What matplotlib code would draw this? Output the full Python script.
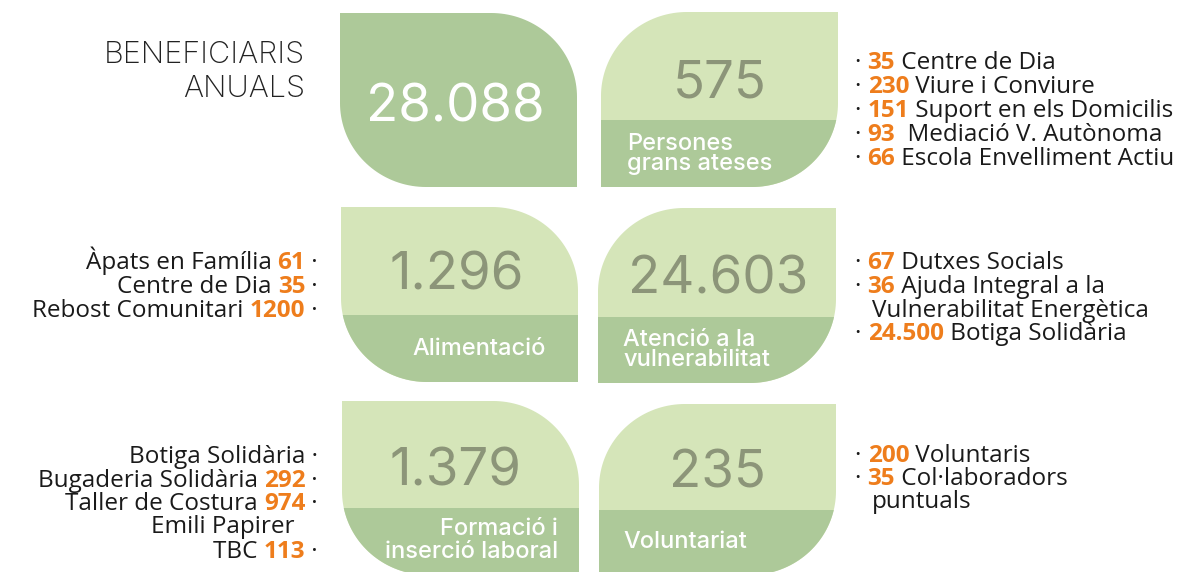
import numpy as np
import matplotlib
matplotlib.use('Agg')
import matplotlib.pyplot as plt
from matplotlib.patches import Polygon, Rectangle

# ---- data ----
title = ['BENEFICIARIS', 'ANUALS']
tile_values = ['28.088', '575', '1.296', '24.603', '1.379', '235']
tile_labels = [[], ['Persones', 'grans ateses'], ['Alimentació'],
               ['Atenció a la', 'vulnerabilitat'], ['Formació i', 'inserció laboral'],
               ['Voluntariat']]

# side lists: (number, text) on the right, (text, number) on the left
gent_gran = [('35', 'Centre de Dia'), ('230', 'Viure i Conviure'),
             ('151', 'Suport en els Domicilis'), ('93', ' Mediació V. Autònoma'),
             ('66', 'Escola Envelliment Actiu')]
alimentacio = [('Àpats en Família', '61'), ('Centre de Dia', '35'),
               ('Rebost Comunitari', '1200')]
vulnerab = [('67', 'Dutxes Socials'), ('36', 'Ajuda Integral a la'),
            ('', 'Vulnerabilitat Energètica'), ('24.500', 'Botiga Solidària')]
formacio = [('Botiga Solidària', ''), ('Bugaderia Solidària', '292'),
            ('Taller de Costura', '974'), ('Emili Papirer', None), ('TBC', '113')]
voluntariat = [('200', 'Voluntaris'), ('35', 'Col·laboradors'), ('', 'puntuals')]

DARK_G = '#adc999'
LIGHT_G = '#d5e5b9'
GREY = '#8c9579'
ORANGE = '#ee7d1c'
INK = '#1a1a1a'
TILE_FONT = ['Inter', 'DejaVu Sans']
LIST_FONT = ['Open Sans', 'DejaVu Sans']

fig = plt.figure(figsize=(11.92, 5.72), dpi=100)
ax = fig.add_axes([0, 0, 1, 1])
ax.set_xlim(0, 1192)
ax.set_ylim(572, 0)
ax.axis('off')
r = fig.canvas.get_renderer()


def tile_verts(x0, y0, x1, y1, rounded, rx=86, ry=84, n=40):
    pts = []
    spec = {'tl': ((x0 + rx, y0 + ry), 180, 270, (x0, y0)),
            'tr': ((x1 - rx, y0 + ry), 270, 360, (x1, y0)),
            'br': ((x1 - rx, y1 - ry), 0, 90, (x1, y1)),
            'bl': ((x0 + rx, y1 - ry), 90, 180, (x0, y1))}
    for c in ['tl', 'tr', 'br', 'bl']:
        (cx, cy), a0, a1, corner = spec[c]
        if c in rounded:
            a = np.radians(np.linspace(a0, a1, n))
            pts += list(zip(cx + rx * np.cos(a), cy + ry * np.sin(a)))
        else:
            pts.append(corner)
    return pts


# tile boxes: x0, y0, x1, y1, rounded corners, band top
boxes = [(340, 13, 577, 187, ('tr', 'bl'), None),
         (601, 12, 838, 187, ('tl', 'br'), 120),
         (341, 207, 578, 382, ('tr', 'bl'), 315),
         (598, 208, 836, 383, ('tl', 'br'), 317),
         (342, 401, 579, 575, ('tr', 'bl'), 508),
         (599, 404, 836, 575, ('tl', 'br'), 510)]

for i, (x0, y0, x1, y1, rc, band) in enumerate(boxes):
    face = DARK_G if band is None else LIGHT_G
    p = Polygon(tile_verts(x0, y0, x1, y1, rc), closed=True, fc=face, ec='none')
    ax.add_patch(p)
    if band is not None:
        b = Rectangle((x0 - 5, band), x1 - x0 + 10, y1 - band + 10, fc=DARK_G, ec='none')
        ax.add_patch(b)
        b.set_clip_path(p)

# big numbers
num_pos = [(455, 122), (720, 98), (457, 290), (718, 293), (455, 486), (717, 488)]
for i, (v, (x, y)) in enumerate(zip(tile_values, num_pos)):
    ax.text(x, y, v, ha='center', va='baseline', fontsize=38, family=TILE_FONT,
            fontweight='normal', color='white' if i == 0 else GREY)

# tile captions
cap_pos = [None, (627, 'left', [150, 170]), (412, 'left', [355]),
           (623, 'left', [346, 366]), (558, 'right', [535, 558]), (623, 'left', [548])]
for lab, cp in zip(tile_labels, cap_pos):
    if cp is None:
        continue
    x, ha, ys = cp
    for s, y in zip(lab, ys):
        ax.text(x, y, s, ha=ha, va='baseline', fontsize=17, family=TILE_FONT,
                fontweight='medium', color='white')

# title
for s, y in zip(title, [63, 97]):
    ax.text(305, y, s, ha='right', va='baseline', fontsize=22, family=TILE_FONT,
            fontweight='light', color='#222222')


def width(s, **kw):
    a = ax.text(0, 0, '|' + s + '|', **kw)
    b = ax.text(0, 0, '||', **kw)
    w = a.get_window_extent(r).width - b.get_window_extent(r).width
    a.remove()
    b.remove()
    return w


def rich(x, y, parts, ha='left', size=17.5):
    styles = []
    for s, hot in parts:
        styles.append(dict(fontsize=size, family=LIST_FONT,
                           color=ORANGE if hot else INK,
                           fontweight='bold' if hot else 'normal'))
    ws = [width(s, **st) for (s, _), st in zip(parts, styles)]
    start = x if ha == 'left' else x - sum(ws)
    for (s, _), st, w in zip(parts, styles, ws):
        ax.text(start, y, s, va='baseline', ha='left', **st)
        start += w


def right_list(x, ys, items):
    for (num, txt), y in zip(items, ys):
        if num:
            rich(x, y, [('· ', False), (num, True), (' ' + txt, False)])
        else:
            rich(x + 17, y, [(txt, False)])


def left_list(x, ys, items):
    for (txt, num), y in zip(items, ys):
        if num is None:
            rich(x - 17, y, [(txt + ' ', False)], ha='right')
        elif num == '':
            rich(x, y, [(txt + ' ·', False)], ha='right')
        else:
            rich(x, y, [(txt + ' ', False), (num, True), (' ·', False)], ha='right')


right_list(855, [69, 93, 117, 141, 165], gent_gran)
left_list(318, [269, 293, 317], alimentacio)
right_list(855, [269, 293, 317, 340], vulnerab)
left_list(318, [463, 487, 510, 533, 558], formacio)
right_list(855, [462, 485, 508], voluntariat)

fig.savefig('out.png', dpi=100)
